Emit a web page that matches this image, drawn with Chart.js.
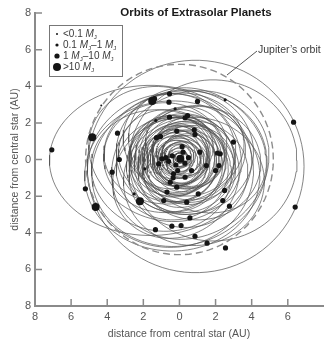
<!DOCTYPE html>
<html>
<head>
<meta charset="utf-8">
<script src="https://cdn.jsdelivr.net/npm/chart.js@4.4.1/dist/chart.umd.min.js"></script>
<style>
  html, body { margin: 0; padding: 0; background: #fff; }
  #wrap { width: 327px; height: 340px; position: relative; }
</style>
</head>
<body>
<div id="wrap"><canvas id="orbits_canvas"></canvas></div>
<script>
// orbits: centre (AU), half-axes (AU), tilt (deg)
const orbitCx   = [0.9, -1.6, 1.86, -0.4, 0.0, -0.8, 0.6, 1.0, -0.3, -0.5,
                   0.0, 0.05, -0.1, 0.1, -0.15, 0.2, -0.2, 0.1, 0.3, -0.3,
                   0.0, 0.4, -0.2, 0.2, -0.4, 0.5, 0.0, -0.5, 0.3, 0.6,
                   -0.3, 0.1, 0.4, -0.6, 0.2, 0.7, -0.4, 0.0, 0.5, -0.8,
                   1.0, -0.2, 0.3, -1.0, 0.8,
                   0.05, -0.05, 0.1, 0.0, -0.1, 0.15, -0.2, 0.2, -0.1, 0.3,
                   -0.3, 0.1, 0.0, -0.2, 0.4, -0.1, 0.2, -0.4, 0.5, -0.2];
const orbitCy   = [-0.38, -0.05, -0.05, -0.9, -0.5, 0.3, -0.3, 0.5, 0.6, -0.6,
                   0.1, 0.0, 0.1, 0.2, 0.0, 0.1, 0.3, -0.2, 0.3, -0.1,
                   0.4, -0.1, 0.2, 0.5, -0.3, 0.2, -0.4, 0.4, 0.6, -0.3,
                   0.0, 0.5, -0.6, 0.2, -0.2, 0.3, -0.5, 0.8, -0.8, 0.1,
                   -0.2, -1.0, 0.4, -0.6, -1.2,
                   -0.05, 0.05, 0.0, -0.1, 0.2, -0.15, 0.1, 0.2, -0.2, 0.0,
                   0.3, -0.3, 0.2, -0.1, 0.3, 0.0, -0.5, 0.2, 0.1, -0.3];
const orbitRx   = [6.0, 5.6, 4.65, 4.85, 4.9, 4.3, 4.5, 4.0, 3.9, 4.6,
                   0.25, 0.4, 0.55, 0.7, 0.85, 1.0, 1.1, 1.25, 1.35, 1.45,
                   1.55, 1.65, 1.75, 1.85, 1.9, 2.0, 2.1, 2.2, 2.3, 2.4,
                   2.5, 2.6, 2.7, 2.8, 2.9, 3.0, 3.1, 3.2, 3.3, 3.4,
                   3.5, 3.6, 3.8, 3.9, 3.9,
                   0.15, 0.3, 0.45, 0.6, 0.75, 0.9, 1.0, 1.2, 1.3, 1.4,
                   1.5, 1.6, 1.7, 1.8, 1.95, 2.05, 2.25, 2.35, 2.55, 2.75];
const orbitRy   = [5.8, 4.1, 4.4, 4.1, 4.2, 3.6, 3.9, 3.2, 3.0, 4.2,
                   0.25, 0.38, 0.5, 0.62, 0.8, 0.9, 1.0, 1.15, 1.2, 1.35,
                   1.4, 1.5, 1.65, 1.6, 1.75, 1.8, 1.9, 2.0, 2.0, 2.15,
                   2.3, 2.3, 2.4, 2.5, 2.7, 2.6, 2.8, 2.7, 2.9, 3.0,
                   3.1, 3.2, 3.4, 3.3, 3.5,
                   0.15, 0.28, 0.4, 0.55, 0.7, 0.82, 0.95, 1.05, 1.25, 1.3,
                   1.35, 1.45, 1.55, 1.7, 1.75, 1.95, 2.05, 2.2, 2.3, 2.55];
const orbitTilt = [0, 0, 0, 0, 15, -20, 30, -30, 10, 0,
                   0, 0, 20, 0, 30, 0, -20, 10, 40, 0,
                   -30, 15, 0, 60, -10, 0, 25, 0, -40, 10,
                   0, 30, 0, -15, 0, 20, 0, -25, 10, 0,
                   0, 30, 0, -10, 0,
                   0, 0, 30, -20, 0, 45, 0, -35, 0, 20,
                   0, -15, 50, 0, -20, 0, 35, 0, -10, 15];

const jupiterRadius = 5.2;

// planets: position (AU) and mass class 0:<0.1 1:0.1-1 2:1-10 3:>10 Mj
const planetX = [-7.07, -4.83, -4.33, -3.43, -3.33, -3.73, -5.21, -4.64, -2.19, -1.33,
                 -1.51, -1.38, -0.55, -0.58, -0.24, 1.0, 2.53, -0.55, 0.31, 0.45,
                 6.32, 2.99, 2.26, -0.15, 0.82, 0.86, -1.05, -1.27, -0.97, -0.75,
                 0.04, 1.13, 1.49, 2.0, 2.19, 2.1, -1.91, -2.51, -0.69, -0.87,
                 0.4, 1.04, 2.5, 2.4, 2.77, 0.58, -0.42, 0.09, 0.86, 1.53,
                 2.55, 6.41, -0.51, -0.15, -1.15, -0.33, 0.31, 0.67, -1.31, -0.2,
                 0.3, -0.4, 0.2, -0.1, 0.5, -0.6, 0.15, -0.35];
const planetY = [0.53, 1.22, 2.95, 1.44, 0.0, -0.69, -1.6, -2.6, -2.28, -3.83,
                 3.19, 3.32, 3.59, 3.13, 2.77, 3.17, 3.26, 2.31, 2.28, 2.4,
                 2.04, 0.95, 0.31, 1.55, 1.62, 1.37, 1.26, 1.19, 0.04, 0.1,
                 0.04, 0.4, -0.33, -0.6, -0.33, 0.35, -0.51, -1.88, -1.78, -2.24,
                 -2.33, -1.88, -1.69, -2.24, -2.55, -3.19, -3.64, -3.61, -4.19, -4.57,
                 -4.83, -2.6, -1.24, -1.51, -0.24, -0.78, -0.97, -0.6, 2.13, -0.3,
                 -0.2, 0.2, 0.4, -0.6, 0.1, -0.1, 0.7, -1.0];
const planetClass = [2, 3, 0, 2, 2, 2, 2, 3, 3, 2,
                     3, 2, 2, 2, 1, 2, 1, 2, 2, 2,
                     2, 2, 2, 2, 2, 2, 2, 2, 2, 2,
                     3, 2, 2, 2, 2, 2, 1, 1, 2, 2,
                     2, 2, 2, 2, 2, 2, 2, 2, 2, 2,
                     2, 2, 2, 2, 2, 2, 2, 2, 1, 2,
                     2, 2, 2, 2, 2, 2, 2, 2];

const classRadius = [1, 1.6, 2.6, 4];
const legendLabels = [
  [['<0.1 '], ['M', 'i'], ['J', 's']],
  [['0.1 '], ['M', 'i'], ['J', 's'], ['\u20131 '], ['M', 'i'], ['J', 's']],
  [['1 '], ['M', 'i'], ['J', 's'], ['\u201310 '], ['M', 'i'], ['J', 's']],
  [['>10 '], ['M', 'i'], ['J', 's']]
];

const xTicks = [-8, -6, -4, -2, 0, 2, 4, 6];
const yTicks = [-8, -6, -4, -2, 0, 2, 4, 6, 8];

const FONT = '"Liberation Sans", Arial, sans-serif';

function ellipsePoints(cx, cy, rx, ry, tilt) {
    const pts = [];
    const t = tilt * Math.PI / 180;
    for (let k = 0; k <= 90; k++) {
        const a = k / 90 * 2 * Math.PI;
        const ex = rx * Math.cos(a), ey = ry * Math.sin(a);
        pts.push({x: cx + ex * Math.cos(t) - ey * Math.sin(t),
                  y: cy + ex * Math.sin(t) + ey * Math.cos(t)});
    }
    return pts;
}

const datasets = [];
for (let i = 0; i < orbitCx.length; i++) {
    datasets.push({
        data: ellipsePoints(orbitCx[i], orbitCy[i], orbitRx[i], orbitRy[i], orbitTilt[i]),
        showLine: true,
        borderColor: 'rgba(80,80,80,0.7)',
        borderWidth: 1,
        pointRadius: 0,
        tension: 0,
        order: 2
    });
}
datasets.push({
    data: ellipsePoints(0, 0, jupiterRadius, jupiterRadius, 0),
    showLine: true,
    borderColor: '#8c8c8c',
    borderWidth: 1.4,
    borderDash: [7, 4],
    pointRadius: 0,
    order: 1
});
for (let c = 0; c < 4; c++) {
    const pts = [];
    planetX.forEach((x, i) => { if (planetClass[i] === c) pts.push({x: x, y: planetY[i]}); });
    datasets.push({
        data: pts,
        pointRadius: classRadius[c],
        pointBackgroundColor: '#151515',
        pointBorderWidth: 0,
        showLine: false,
        order: 0
    });
}

function drawRich(ctx, parts, x, y, size) {
    ctx.textBaseline = 'middle';
    ctx.textAlign = 'left';
    parts.forEach(p => {
        if (p[1] === 'i') {
            ctx.font = 'italic ' + size + 'px ' + FONT;
            ctx.fillText(p[0], x, y);
        } else if (p[1] === 's') {
            ctx.font = (size * 0.62) + 'px ' + FONT;
            ctx.fillText(p[0], x, y + 3);
        } else {
            ctx.font = size + 'px ' + FONT;
            ctx.fillText(p[0], x, y);
        }
        x += ctx.measureText(p[0]).width;
    });
}

const decorations = {
    id: 'decorations',
    afterDraw(chart) {
        const ctx = chart.ctx;
        const xs = chart.scales.x, ys = chart.scales.y;
        const area = chart.chartArea;
        ctx.save();
        // inward tick marks
        ctx.strokeStyle = '#8a8a8a';
        ctx.lineWidth = 1.5;
        ctx.beginPath();
        xTicks.forEach(v => {
            if (v === -8) return;
            const px = xs.getPixelForValue(v);
            ctx.moveTo(px, area.bottom); ctx.lineTo(px, area.bottom - 7);
        });
        yTicks.forEach(v => {
            if (v === -8) return;
            const py = ys.getPixelForValue(v);
            ctx.moveTo(area.left, py); ctx.lineTo(area.left + 7, py);
        });
        ctx.stroke();

        // title
        ctx.fillStyle = '#1a1a1a';
        ctx.font = 'bold 11.5px ' + FONT;
        ctx.textAlign = 'center';
        ctx.textBaseline = 'middle';
        ctx.fillText('Orbits of Extrasolar Planets', 196, 13);

        // legend
        ctx.fillStyle = '#fff';
        ctx.fillRect(49, 25, 74, 52);
        ctx.strokeStyle = '#777';
        ctx.lineWidth = 1;
        ctx.strokeRect(49.5, 25.5, 73, 51);
        const rows = [34, 45, 56, 67];
        legendLabels.forEach((parts, i) => {
            ctx.fillStyle = '#151515';
            ctx.beginPath();
            ctx.arc(57, rows[i], classRadius[i], 0, 2 * Math.PI);
            ctx.fill();
            ctx.fillStyle = '#3a3a3a';
            drawRich(ctx, parts, 63, rows[i], 10);
        });

        // Jupiter label and leader
        ctx.strokeStyle = '#555';
        ctx.lineWidth = 1;
        ctx.beginPath();
        ctx.moveTo(257, 51);
        ctx.lineTo(227, 75);
        ctx.stroke();
        ctx.fillStyle = '#3a3a3a';
        ctx.font = '10.5px ' + FONT;
        ctx.textAlign = 'left';
        ctx.textBaseline = 'middle';
        ctx.fillText('Jupiter\u2019s orbit', 258, 50);
        ctx.restore();
    }
};

new Chart(document.getElementById('orbits_canvas'), {
    type: 'scatter',
    data: { datasets: datasets },
    options: {
        responsive: true,
        maintainAspectRatio: false,
        animation: false,
        layout: { padding: { top: 13, right: 0, left: 0, bottom: 0 } },
        plugins: { legend: { display: false }, tooltip: { enabled: false } },
        scales: {
            x: {
                type: 'linear', min: -8, max: 7.95,
                afterBuildTicks: s => { s.ticks = xTicks.map(v => ({value: v})); },
                afterFit: s => { s.height = 34; },
                border: { display: true, color: '#8a8a8a', width: 2 },
                grid: { drawOnChartArea: false, drawTicks: false },
                ticks: { color: '#555', padding: 4, font: { family: FONT, size: 11 },
                         callback: v => String(Math.abs(v)), maxRotation: 0 },
                title: { display: true, text: 'distance from central star (AU)', color: '#555',
                         font: { family: FONT, size: 10.5 }, padding: { top: 4, bottom: 0 } }
            },
            y: {
                type: 'linear', min: -8, max: 8,
                afterBuildTicks: s => { s.ticks = yTicks.map(v => ({value: v})); },
                afterFit: s => { s.width = 35; },
                border: { display: true, color: '#8a8a8a', width: 2 },
                grid: { drawOnChartArea: false, drawTicks: false },
                ticks: { color: '#555', padding: 4, font: { family: FONT, size: 11 },
                         callback: v => String(Math.abs(v)) },
                title: { display: true, text: 'distance from central star (AU)', color: '#555',
                         font: { family: FONT, size: 10.5 }, padding: { top: 9, bottom: 0 } }
            }
        }
    },
    plugins: [decorations]
});
</script>
</body>
</html>
